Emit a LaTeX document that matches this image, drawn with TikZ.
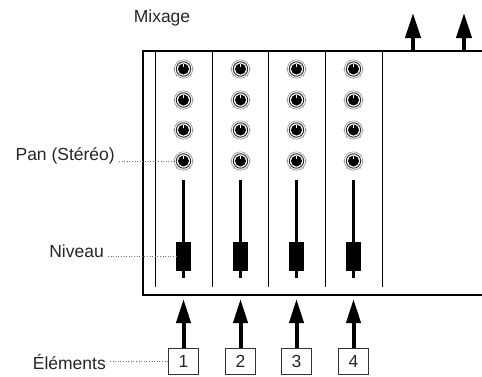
\documentclass[tikz,border=0pt]{standalone}
\usepackage{fontspec}
\setmainfont{Liberation Sans}
\usetikzlibrary{arrows.meta}
\begin{document}
\begin{tikzpicture}[x=1pt,y=-1pt,
  lbl/.style={font=\fontsize{17.5}{20}\selectfont, inner sep=0pt, text=black!85},
  inbox/.style={draw=black!80, line width=0.8pt, minimum width=30pt, minimum height=26pt, inner sep=0pt, font=\fontsize{17.5}{20}\selectfont, text=black!85},
  bigarrow/.style={line width=4pt, -{Triangle[length=24pt,width=14pt]}},
  leader/.style={dotted, black!55, line width=0.6pt},
  divider/.style={line width=0.8pt},
  frame/.style={line width=2.6pt}]
\useasboundingbox (0,0) rectangle (482,376);
% frame
\draw[frame] (482,51) -- (143,51) -- (143,295) -- (482,295);
% dividers
\foreach \x in {155,212,268,325,382} \draw[divider] (\x,51) -- (\x,287);
% knobs and faders
\foreach \c/\x in {1/183.5,2/240.5,3/296.5,4/353.5} {
  \foreach \r/\y in {1/69,2/100,3/130,4/161} {
    \node[circle, fill=black, minimum size=11pt, inner sep=0pt] (k\c\r) at (\x,\y) {};
    \draw[white, line width=1pt] (\x,\y-2) -- (\x,\y-5.5);
    \draw[black!85, line width=0.9pt] (\x,\y) circle (7.2);
    \draw[black!45, line width=0.6pt] (\x,\y) circle (9.2);
    \draw[black!45, line width=0.5pt] (\x-9.2,\y) -- (\x-10.7,\y) (\x+9.2,\y) -- (\x+10.7,\y)
      (\x-6.5,\y+6.5) -- (\x-7.5,\y+7.5) (\x+6.5,\y+6.5) -- (\x+7.5,\y+7.5);
  }
  \draw[line width=3.2pt] (\x,180) -- (\x,278);
  \node[fill=black, minimum width=15pt, minimum height=29pt, inner sep=0pt] (f\c) at (\x,256.5) {};
  \node[inbox] (b\c) at (\x,361) {\c};
  \coordinate (t\c) at (\x,299);
  \draw[bigarrow] (b\c.north) -- (t\c);
}
% outputs
\coordinate (o1s) at (413,51); \coordinate (o1e) at (413,13);
\coordinate (o2s) at (464,51); \coordinate (o2e) at (464,13);
\draw[bigarrow, -{Triangle[length=25pt,width=15pt]}] (o1s) -- (o1e);
\draw[bigarrow, -{Triangle[length=25pt,width=15pt]}] (o2s) -- (o2e);
% labels
\node[lbl] (mix) at (162,18) {Mixage};
\node[lbl, anchor=east] (pan) at (115,156) {Pan (Stéréo)};
\node[lbl, anchor=east] (niv) at (104,251) {Niveau};
\node[lbl, anchor=east] (ele) at (106,362) {Éléments};
\draw[leader] (pan.east |- k14) ++(4,0) -- (k14.west);
\draw[leader] (niv.east |- f1) ++(4,0) -- (f1.west);
\draw[leader] (ele.east |- b1) ++(4,0) -- (b1.west);
\end{tikzpicture}
\end{document}
